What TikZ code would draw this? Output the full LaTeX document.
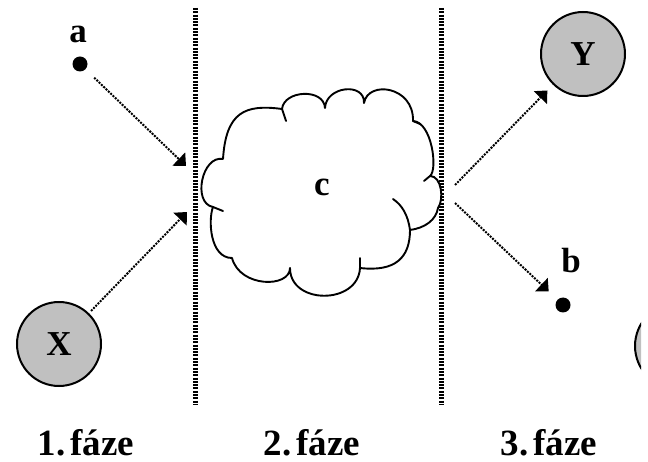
\documentclass[tikz,border=0pt]{standalone}
\usepackage{fontspec}
\setmainfont{Liberation Serif}
\usetikzlibrary{arrows.meta}
\begin{document}
\begin{tikzpicture}[x=1pt,y=-1pt,
  lbl/.style={font=\bfseries\fontsize{35}{40}\selectfont, inner sep=0pt},
  phase/.style={font=\bfseries\fontsize{37}{42}\selectfont, inner sep=0pt, anchor=base},
  dotnode/.style={circle, fill=black, draw=none, minimum size=15pt, inner sep=0pt},
  ball/.style={circle, fill=ballgray, draw=black, line width=2pt, minimum size=84pt, inner sep=0pt,
    font=\bfseries\fontsize{35}{40}\selectfont},
  arr/.style={draw=black, line width=2pt, dash pattern=on 2pt off 1.2pt,
    -{Triangle[length=10pt,width=18pt]}},
  sep/.style={draw=black, line width=5pt, dash pattern=on 2pt off 1.3pt},
  cloudline/.style={draw=black, line width=1.9pt, line join=round, line cap=round}]
\definecolor{ballgray}{RGB}{192,192,192}
\useasboundingbox (0,0) rectangle (648,462);
% separators
\coordinate (l1t) at (195,8); \coordinate (l1b) at (195,405);
\coordinate (l2t) at (441,8); \coordinate (l2b) at (441,405);
\draw[sep] (l1t) -- (l1b);
\draw[sep] (l2t) -- (l2b);
% cloud
\fill[white] (213,207) .. controls (192,203) and (202,155) .. (223,159)
  .. controls (226,112) and (245,104) .. (282,109)
  .. controls (284,90) and (324,88) .. (325,108)
  .. controls (326,86) and (365,82) .. (364,103)
  .. controls (368,80) and (414,86) .. (413,121)
  .. controls (432,122) and (438,170) .. (430,176)
  .. controls (442,176) and (444,200) .. (438,208)
  .. controls (436,220) and (425,228) .. (410,230)
  .. controls (410,258) and (395,272) .. (360,268)
  .. controls (358,305) and (290,305) .. (290,268)
  .. controls (290,288) and (240,288) .. (232,258)
  .. controls (210,258) and (208,220) .. (213,207) -- cycle;
\draw[cloudline] (213,207) .. controls (192,203) and (202,155) .. (223,159)
  .. controls (226,112) and (245,104) .. (282,109)
  .. controls (284,90) and (324,88) .. (325,108)
  .. controls (326,86) and (365,82) .. (364,103)
  .. controls (368,80) and (414,86) .. (413,121)
  .. controls (432,122) and (438,170) .. (430,176)
  .. controls (442,176) and (444,200) .. (438,208)
  .. controls (436,220) and (425,228) .. (410,230)
  .. controls (410,258) and (395,272) .. (360,268)
  .. controls (358,305) and (290,305) .. (290,268)
  .. controls (290,288) and (240,288) .. (232,258)
  .. controls (210,258) and (208,220) .. (213,207);
% cloud ticks
\draw[cloudline] (282,109) -- (286,121);
\draw[cloudline] (413,121) -- (420,124);
\draw[cloudline] (430,176) -- (424,181);
\draw[cloudline] (410,230) .. controls (408,215) and (402,205) .. (393,199);
\draw[cloudline] (360,268) -- (360,258);
\draw[cloudline] (213,207) -- (223,211);
\node[lbl] (c) at (322,187) {c};
% nodes
\node[dotnode] (a) at (80,64) {};
\node[lbl, anchor=base] (la) at (78,43) {a};
\node[dotnode] (b) at (563,305) {};
\node[lbl, anchor=base] (lb) at (571,273) {b};
\node[ball] (X) at (59,344) {X};
\node[ball] (Y) at (583,54) {Y};
% partial ball at right edge
\begin{scope}
  \clip (628,300) rectangle (641,400);
  \draw[fill=ballgray, draw=black, line width=2pt] (678,346) circle (43pt);
\end{scope}
% connectors
\coordinate (ta) at (186,166);
\coordinate (tx) at (187,212);
\coordinate (s1) at (455,185);
\coordinate (s2) at (455,203);
\draw[arr, shorten <=12pt] (a) -- (ta);
\draw[arr, shorten <=3pt] (X) -- (tx);
\draw[arr, shorten >=8pt] (s1) -- (Y);
\draw[arr, shorten >=12pt] (s2) -- (b);
% phase labels
\node[phase] (f1) at (86,455) {1.\kern5pt fáze};
\node[phase] (f2) at (312,455) {2.\kern5pt fáze};
\node[phase] (f3) at (549,455) {3.\kern5pt fáze};
\end{tikzpicture}
\end{document}
